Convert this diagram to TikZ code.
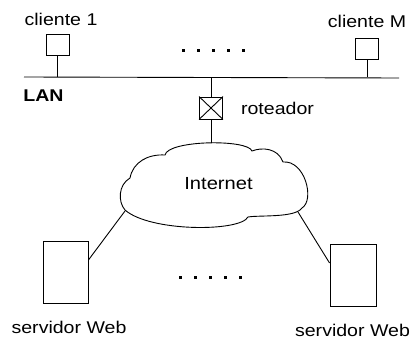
\documentclass[tikz,border=0pt]{standalone}
\usepackage{fontspec}
\setmainfont[FakeStretch=1.15]{Liberation Sans}
\usetikzlibrary{positioning}
\tikzset{
  host/.style={draw, line width=0.9pt, minimum width=23pt, minimum height=21pt, inner sep=0pt},
  server/.style={draw, line width=0.9pt, minimum width=45pt, minimum height=62pt, inner sep=0pt},
  router/.style={draw, line width=0.9pt, minimum width=23pt, minimum height=22pt, inner sep=0pt},
  txt/.style={font=\fontsize{17}{19}\selectfont, inner sep=0pt, anchor=base},
  link/.style={line width=0.9pt}
}

\begin{document}
\begin{tikzpicture}[x=1pt, y=1pt]
  \useasboundingbox (0,0) rectangle (414,340);
%% clients and the LAN
  \node[txt] (lblA) at (61,314) {cliente 1};
  \node[host] (cliA) at (57.5,295.5) {};
  \node[txt] (lblM) at (367,312.7) {cliente M};
  \node[host] (cliM) at (367,291.5) {};
  \foreach \i in {0,...,4}
    \fill (181.5+15*\i,287.5) rectangle +(3,3);
  \coordinate (lanL) at (24,263);
  \coordinate (lanR) at (399,262);
  \draw[link] (lanL) -- (lanR);
  \draw[link] (cliA.south) -- (cliA.south |- lanL);
  \draw[link] (cliM.south) -- (cliM.south |- lanL);
  \node[txt, font=\fontsize{17}{19}\selectfont\bfseries] (lan) at (43.5,238.3) {LAN};
%% router
  \node[router] (rot) at (211,232) {};
  \draw[link] (rot.north west) -- (rot.south east);
  \draw[link] (rot.north east) -- (rot.south west);
  \draw[link] (rot.north) -- (rot.north |- lanL);
  \node[txt] (lblRot) at (277.5,225) {roteador};
%% cloud
  \draw[link] (165,185) .. controls (168,200) and (248,201) .. (252,189)
    .. controls (262,193) and (278,192) .. (283,178)
    .. controls (305,180) and (315,140) .. (302,132)
    .. controls (295,122) and (260,125) .. (248,123)
    .. controls (240,108) and (150,108) .. (125,130)
    .. controls (118,138) and (118,155) .. (130,162)
    .. controls (133,178) and (148,186) .. cycle;
  \coordinate (cloudTop) at (211,197);
  \coordinate (cloudL) at (125,129);
  \coordinate (cloudR) at (298,128);
  \draw[link] (rot.south) -- (cloudTop);
  \node[txt, font=\fontsize{17.5}{19}\selectfont] (inet) at (218.5,150) {Internet};
%% web servers
  \node[server] (srvA) at (65.5,68) {};
  \node[server, minimum width=46pt] (srvB) at (353,65) {};
  \draw[link] (cloudL) -- (srvA.east |- 0,80);
  \draw[link] (cloudR) -- (srvB.west |- 0,77);
  \foreach \i in {0,...,4}
    \fill (178.5+15*\i,61.5) rectangle +(3,3);
  \node[txt] (lblA2) at (69,7) {servidor Web};
  \node[txt] (lblB2) at (352.5,3.3) {servidor Web};
\end{tikzpicture}
\end{document}
